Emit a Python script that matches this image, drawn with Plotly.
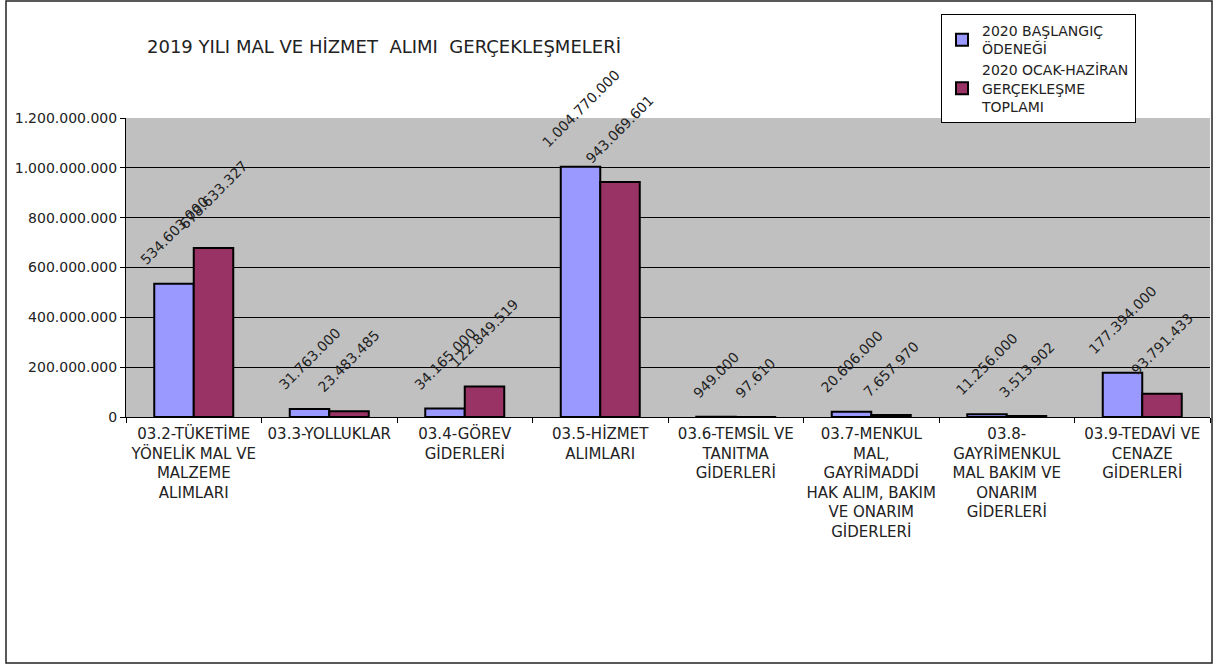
import plotly.graph_objects as go

categories = [
    "03.2-TÜKETİME<br>YÖNELİK MAL VE<br>MALZEME<br>ALIMLARI",
    "03.3-YOLLUKLAR",
    "03.4-GÖREV<br>GİDERLERİ",
    "03.5-HİZMET<br>ALIMLARI",
    "03.6-TEMSİL VE<br>TANITMA<br>GİDERLERİ",
    "03.7-MENKUL<br>MAL,<br>GAYRİMADDİ<br>HAK ALIM, BAKIM<br>VE ONARIM<br>GİDERLERİ",
    "03.8-<br>GAYRİMENKUL<br>MAL BAKIM VE<br>ONARIM<br>GİDERLERİ",
    "03.9-TEDAVİ VE<br>CENAZE<br>GİDERLERİ",
]
series_names = ["2020 BAŞLANGIÇ<br>ÖDENEĞİ", "2020 OCAK-HAZİRAN<br>GERÇEKLEŞME<br>TOPLAMI"]
baslangic = [534603000, 31763000, 34165000, 1004770000, 949000, 20606000, 11256000, 177394000]
gerceklesme = [678633327, 23483485, 122849519, 943069601, 97610, 7657970, 3513902, 93791433]
y_ticks = [0, 200000000, 400000000, 600000000, 800000000, 1000000000, 1200000000]
title_text = "2019 YILI MAL VE HİZMET  ALIMI  GERÇEKLEŞMELERİ"

FONT = "DejaVu Sans, Liberation Sans, Arial"
TXT = "#222222"

# plot-area geometry in pixels (used only for placing frame, legend and title)
L, R, T, B = 126, 1210, 118, 417
PW, PH = R - L, B - T


def fmt(v):
    return f"{v:,}".replace(",", ".")


def px_x(px):
    return (px - L) / PW


def px_y(py):
    return (B - py) / PH


colors = ["#9999FF", "#993366"]
fig = go.Figure()
for name, vals, col in zip(series_names, [baslangic, gerceklesme], colors):
    fig.add_trace(go.Bar(
        x=categories, y=vals, name=name,
        marker=dict(color=col, line=dict(color="black", width=2)),
    ))

bargap = 0.417
bar_px = PW / len(categories) * (1 - bargap) / 2
annotations = []
for si, vals in enumerate([baslangic, gerceklesme]):
    shift = (si - 0.5) * bar_px
    for cat, v in zip(categories, vals):
        annotations.append(dict(
            x=cat, y=v, xref="x", yref="y", xshift=shift, yshift=13,
            text=fmt(v), textangle=-45, showarrow=False,
            xanchor="center", yanchor="bottom",
            font=dict(family=FONT, size=14, color=TXT),
        ))

annotations.append(dict(
    text=title_text, xref="paper", yref="paper",
    x=px_x(145), y=px_y(47), xanchor="left", yanchor="middle",
    showarrow=False, font=dict(family=FONT, size=18, color=TXT),
))

fig.update_layout(
    width=1215, height=666,
    margin=dict(l=L, r=1215 - R, t=T, b=666 - B, autoexpand=False),
    paper_bgcolor="white", plot_bgcolor="#C0C0C0",
    barmode="group", bargap=bargap, bargroupgap=0,
    separators=",.",
    font=dict(family=FONT, size=14, color=TXT),
    showlegend=True,
    legend=dict(
        x=px_x(941), y=px_y(14), xanchor="left", yanchor="top",
        bgcolor="white", bordercolor="black", borderwidth=1,
        font=dict(family=FONT, size=14, color=TXT), tracegroupgap=0,
        itemwidth=30,
    ),
    xaxis=dict(
        showgrid=False, ticks="outside", tickson="boundaries", ticklen=5,
        tickcolor="black", showline=True, linecolor="black", linewidth=1,
        tickangle=0, tickfont=dict(family=FONT, size=15, color=TXT),
        ticklabelstandoff=3,
    ),
    yaxis=dict(
        range=[0, 1200000000], tickvals=y_ticks, tickformat=",d",
        showgrid=True, gridcolor="black", gridwidth=1,
        ticks="outside", ticklen=5, tickcolor="black",
        showline=True, linecolor="black", linewidth=1,
        tickfont=dict(family=FONT, size=14, color=TXT), zeroline=False,
    ),
    annotations=annotations,
    shapes=[dict(
        type="rect", xref="paper", yref="paper",
        x0=px_x(6), x1=px_x(1212), y0=px_y(663), y1=px_y(1),
        line=dict(color="#222222", width=1.5), fillcolor="rgba(0,0,0,0)", layer="below",
    )],
)

fig.write_html("out.html", config={"displayModeBar": False},
               post_script="document.body.style.margin='0';")
